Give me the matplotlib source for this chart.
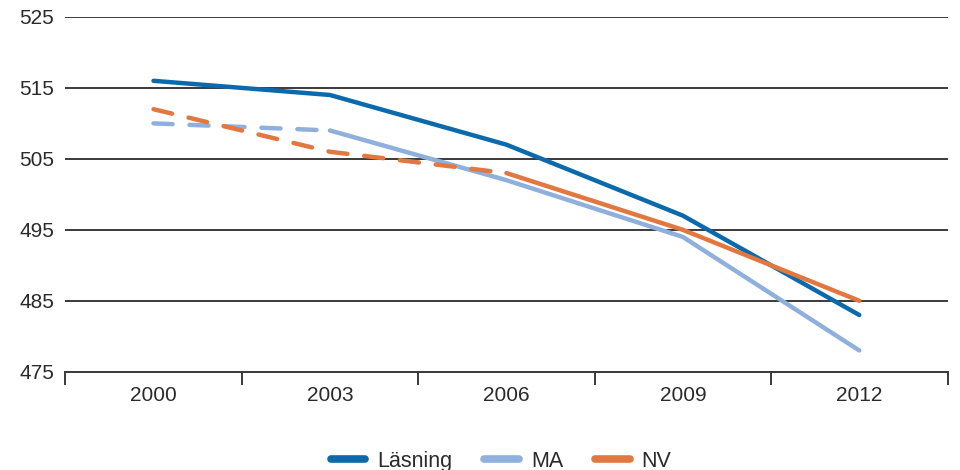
import numpy as np
import matplotlib
matplotlib.use("Agg")
from matplotlib import pyplot as plt

plt.rcParams['font.family'] = ['Liberation Sans', 'DejaVu Sans']

years = ['2000', '2003', '2006', '2009', '2012']
lasning = [516, 514, 507, 497, 483]
ma = [510, 509, 502, 494, 478]
nv = [512, 506, 503, 495, 485]
# index where each series turns from dashed to solid
ma_split = 1
nv_split = 2
yticks = [475, 485, 495, 505, 515, 525]

c_las = '#0a6aab'
c_ma = '#8fb0dc'
c_nv = '#e2783f'
c_text = '#2a2a2a'

fig = plt.figure()
fig.set_dpi(100)
fig.set_size_inches(9.6, 4.7)
ax = fig.add_axes([0.068, 0.209, 0.919, 0.755])

x = np.arange(len(years))
lw = 3.2
dash = dict(lw=lw, ls=(0, (4.3, 3.8)), dash_capstyle='round', solid_capstyle='round')
solid = dict(lw=lw, solid_capstyle='round')

ax.plot(x, lasning, color=c_las, label='Läsning', **solid)
ax.plot(x[:ma_split + 1], ma[:ma_split + 1], color=c_ma, **dash)
ax.plot(x[ma_split:], ma[ma_split:], color=c_ma, label='MA', **solid)
ax.plot(x[:nv_split + 1], nv[:nv_split + 1], color=c_nv, **dash)
ax.plot(x[nv_split:], nv[nv_split:], color=c_nv, label='NV', **solid)

ax.set_ylim(475, 525)
ax.set_yticks(yticks)
ax.yaxis.grid(True, color='#3a3a3a', lw=1.4)
ax.set_axisbelow(True)
ax.tick_params(axis='y', length=0, pad=8, labelsize=15, labelcolor=c_text)

ax.set_xlim(-0.5, len(years) - 0.5)
ax.set_xticks(np.arange(len(years) + 1) - 0.5)
ax.set_xticklabels([])
ax.set_xticks(x, minor=True)
ax.set_xticklabels(years, minor=True)
ax.tick_params(axis='x', which='major', direction='out', length=9, width=1.4, color='#3a3a3a')
ax.tick_params(axis='x', which='minor', length=0, pad=10, labelsize=15, labelcolor=c_text)

for s in ['top', 'right', 'left']:
    ax.spines[s].set_visible(False)
ax.spines['bottom'].set_color('#3a3a3a')
ax.spines['bottom'].set_linewidth(1.4)

leg = fig.legend(loc='lower center', bbox_to_anchor=(0.522, -0.045), ncol=3, frameon=False,
                 fontsize=15.5, handlelength=1.6, columnspacing=1.5, handletextpad=0.55)
for line in leg.get_lines():
    line.set_linewidth(5.5)
for t in leg.get_texts():
    t.set_color(c_text)

fig.savefig('out.png', dpi=100)
